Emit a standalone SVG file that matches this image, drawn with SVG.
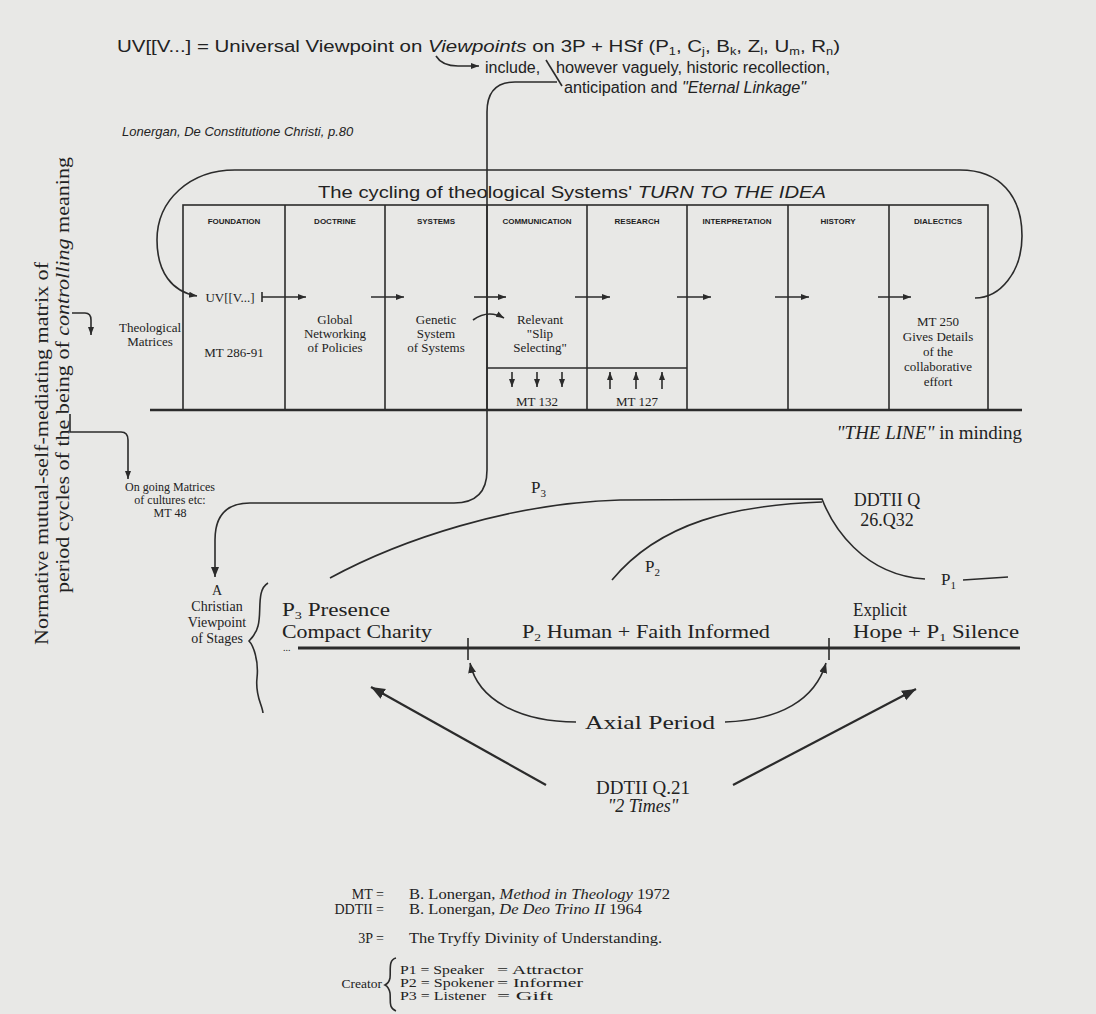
<svg xmlns="http://www.w3.org/2000/svg" width="1096" height="1014" viewBox="0 0 1096 1014">
<defs>
<style>
.bg{fill:#e8e8e6}
.ln{fill:none;stroke:#2b2b2b;stroke-width:1.6}
.thk{fill:none;stroke:#2b2b2b;stroke-width:2.6}
.sans{font-family:"Liberation Sans",Arial,sans-serif;fill:#222}
.serif{font-family:"Liberation Serif","Times New Roman",serif;fill:#222}
.hdr{font-family:"Liberation Sans",Arial,sans-serif;font-weight:bold;font-size:8px;fill:#1e1e1e;text-anchor:middle}
.cell{font-family:"Liberation Serif","Times New Roman",serif;font-size:13px;fill:#222;text-anchor:middle}
.it{font-style:italic}
</style>
<marker id="ah" markerUnits="userSpaceOnUse" markerWidth="12" markerHeight="10" refX="10" refY="5" orient="auto">
<path d="M0,1 L10,5 L0,9 Z" fill="#2b2b2b"/>
</marker>
<marker id="ahs" markerUnits="userSpaceOnUse" markerWidth="9" markerHeight="8" refX="8" refY="4" orient="auto">
<path d="M0,1 L8,4 L0,7 Z" fill="#2b2b2b"/>
</marker>
<marker id="ahb" markerUnits="userSpaceOnUse" markerWidth="16" markerHeight="14" refX="14" refY="7" orient="auto">
<path d="M0,1.5 L14,7 L0,12.5 Z" fill="#2b2b2b"/>
</marker>
</defs>
<rect class="bg" x="0" y="0" width="1096" height="1014"/>

<g id="uv-definition">
<text class="sans" x="117" y="52" font-size="16" textLength="723" lengthAdjust="spacingAndGlyphs">UV[[V...] = Universal Viewpoint on <tspan class="it">Viewpoints</tspan> on 3P + HSf (P<tspan font-size="10" dy="3">1</tspan><tspan dy="-3">, C</tspan><tspan font-size="10" dy="3">j</tspan><tspan dy="-3">, B</tspan><tspan font-size="10" dy="3">k</tspan><tspan dy="-3">, Z</tspan><tspan font-size="10" dy="3">l</tspan><tspan dy="-3">, U</tspan><tspan font-size="10" dy="3">m</tspan><tspan dy="-3">, R</tspan><tspan font-size="10" dy="3">n</tspan><tspan dy="-3">)</tspan></text>
<text class="sans" x="485" y="73" font-size="16">include,</text>
<text class="sans" x="556" y="73" font-size="16" textLength="274" lengthAdjust="spacingAndGlyphs">however vaguely, historic recollection,</text>
<text class="sans" x="564" y="93" font-size="16" textLength="242" lengthAdjust="spacingAndGlyphs">anticipation and <tspan class="it">"Eternal Linkage"</tspan></text>
</g>

<g id="lonergan-ref">
<text class="sans it" x="122" y="136" font-size="13">Lonergan, De Constitutione Christi, p.80</text>
</g>

<g id="cycle-title">
<text class="sans" x="318" y="198" font-size="17" textLength="508" lengthAdjust="spacingAndGlyphs">The cycling of theological Systems' <tspan class="it">TURN TO THE IDEA</tspan></text>
</g>

<g id="table">
<rect class="ln" x="183" y="205" width="805" height="205"/>
<line class="ln" x1="285" y1="205" x2="285" y2="410"/>
<line class="ln" x1="385" y1="205" x2="385" y2="410"/>
<line class="ln" x1="487" y1="205" x2="487" y2="410"/>
<line class="ln" x1="587" y1="205" x2="587" y2="410"/>
<line class="ln" x1="687" y1="205" x2="687" y2="410"/>
<line class="ln" x1="788" y1="205" x2="788" y2="410"/>
<line class="ln" x1="889" y1="205" x2="889" y2="410"/>
<line class="ln" x1="487" y1="368" x2="687" y2="368"/>
</g>

<g id="col-foundation">
<text class="hdr" x="234" y="224">FOUNDATION</text>
<text class="cell" x="230" y="302">UV[[V...]</text>
<text class="cell" x="234" y="357">MT 286-91</text>
</g>
<g id="col-doctrine">
<text class="hdr" x="335" y="224">DOCTRINE</text>
<text class="cell" x="335" y="324">Global</text>
<text class="cell" x="335" y="338">Networking</text>
<text class="cell" x="335" y="352">of Policies</text>
</g>
<g id="col-systems">
<text class="hdr" x="436" y="224">SYSTEMS</text>
<text class="cell" x="436" y="324">Genetic</text>
<text class="cell" x="436" y="338">System</text>
<text class="cell" x="436" y="352">of Systems</text>
</g>
<g id="col-communication">
<text class="hdr" x="537" y="224">COMMUNICATION</text>
<text class="cell" x="540" y="324">Relevant</text>
<text class="cell" x="540" y="338">"Slip</text>
<text class="cell" x="540" y="352">Selecting"</text>
<text class="cell" x="537" y="406">MT 132</text>
</g>
<g id="col-research">
<text class="hdr" x="637" y="224">RESEARCH</text>
<text class="cell" x="637" y="406">MT 127</text>
</g>
<g id="col-interpretation">
<text class="hdr" x="737" y="224">INTERPRETATION</text>
</g>
<g id="col-history">
<text class="hdr" x="838" y="224">HISTORY</text>
</g>
<g id="col-dialectics">
<text class="hdr" x="938" y="224">DIALECTICS</text>
<text class="cell" x="938" y="326">MT 250</text>
<text class="cell" x="938" y="341">Gives Details</text>
<text class="cell" x="938" y="356">of the</text>
<text class="cell" x="938" y="371">collaborative</text>
<text class="cell" x="938" y="386">effort</text>
</g>

<g id="the-line">
<line class="thk" x1="150" y1="410" x2="1022" y2="410"/>
<text class="serif" x="1022" y="439" font-size="19" text-anchor="end"><tspan class="it">"THE LINE"</tspan> in minding</text>
</g>

<g id="side-label">
<text class="serif" transform="translate(48,645) rotate(-90)" font-size="19" textLength="383" lengthAdjust="spacingAndGlyphs">Normative mutual-self-mediating matrix of</text>
<text class="serif" transform="translate(69,593) rotate(-90)" font-size="19" textLength="436" lengthAdjust="spacingAndGlyphs">period cycles of the being of <tspan class="it">controlling</tspan> meaning</text>
</g>

<g id="theological-matrices">
<text class="serif" x="150" y="332" font-size="13" text-anchor="middle">Theological</text>
<text class="serif" x="150" y="346" font-size="13" text-anchor="middle">Matrices</text>
</g>

<g id="ongoing-matrices">
<text class="serif" x="170" y="491" font-size="12" text-anchor="middle">On going Matrices</text>
<text class="serif" x="170" y="504" font-size="12" text-anchor="middle">of cultures etc:</text>
<text class="serif" x="170" y="517" font-size="12" text-anchor="middle">MT 48</text>
</g>

<g id="christian-viewpoint">
<text class="serif" x="217" y="595" font-size="14" text-anchor="middle">A</text>
<text class="serif" x="217" y="611" font-size="14" text-anchor="middle">Christian</text>
<text class="serif" x="217" y="627" font-size="14" text-anchor="middle">Viewpoint</text>
<text class="serif" x="217" y="643" font-size="14" text-anchor="middle">of Stages</text>
<path class="ln" d="M268,583 C256,590 262,612 258,626 C256,634 252,638 249,641 C253,645 259,660 257,678 C255,696 262,704 263,713"/>
</g>

<g id="stages">
<text class="serif" x="282" y="616" font-size="18" textLength="108" lengthAdjust="spacingAndGlyphs">P<tspan font-size="11" dy="3">3</tspan><tspan dy="-3"> Presence</tspan></text>
<text class="serif" x="282" y="638" font-size="18" textLength="150" lengthAdjust="spacingAndGlyphs">Compact Charity</text>
<text class="serif" x="522" y="638" font-size="18" textLength="248" lengthAdjust="spacingAndGlyphs">P<tspan font-size="11" dy="3">2</tspan><tspan dy="-3"> Human + Faith Informed</tspan></text>
<text class="serif" x="853" y="616" font-size="18" textLength="54" lengthAdjust="spacingAndGlyphs">Explicit</text>
<text class="serif" x="853" y="638" font-size="18" textLength="166" lengthAdjust="spacingAndGlyphs">Hope + P<tspan font-size="11" dy="3">1</tspan><tspan dy="-3"> Silence</tspan></text>
<text class="serif" x="283" y="651" font-size="10">...</text>
<line x1="298" y1="648" x2="1020" y2="648" stroke="#2b2b2b" stroke-width="3"/>
<line class="ln" x1="468" y1="638" x2="468" y2="660"/>
<line class="ln" x1="829" y1="638" x2="829" y2="660"/>
</g>

<g id="ddtii-q26">
<text class="serif" x="887" y="506" font-size="18" text-anchor="middle">DDTII Q</text>
<text class="serif" x="887" y="526" font-size="18" text-anchor="middle">26.Q32</text>
</g>

<g id="axial-period">
<text class="serif" x="650" y="729" font-size="19" text-anchor="middle" textLength="130" lengthAdjust="spacingAndGlyphs">Axial Period</text>
</g>

<g id="ddtii-q21">
<text class="serif" x="643" y="794" font-size="19" text-anchor="middle">DDTII Q.21</text>
<text class="serif it" x="643" y="812" font-size="18" text-anchor="middle">"2 Times"</text>
</g>

<g id="legend">
<text class="serif" x="384" y="899" font-size="14" text-anchor="end">MT =</text>
<text class="serif" x="409" y="899" font-size="14" textLength="261" lengthAdjust="spacingAndGlyphs">B. Lonergan, <tspan class="it">Method in Theology</tspan>  1972</text>
<text class="serif" x="384" y="914" font-size="14" text-anchor="end">DDTII =</text>
<text class="serif" x="409" y="914" font-size="14" textLength="233" lengthAdjust="spacingAndGlyphs">B. Lonergan, <tspan class="it">De Deo Trino II</tspan> 1964</text>
<text class="serif" x="384" y="943" font-size="14" text-anchor="end">3P =</text>
<text class="serif" x="409" y="943" font-size="14" textLength="253" lengthAdjust="spacingAndGlyphs">The Tryffy Divinity of Understanding.</text>
<text class="serif" x="382" y="988" font-size="13.5" text-anchor="end">Creator</text>
<path class="ln" d="M396,958 C388,960 391,970 390,978 C389,983 387,984 385,985 C387,986 389,988 390,993 C391,1000 388,1008 396,1011"/>
<text class="serif" x="400" y="974" font-size="13.5" textLength="84" lengthAdjust="spacingAndGlyphs">P1 = Speaker</text>
<text class="serif" x="497" y="974" font-size="13.5" textLength="86" lengthAdjust="spacingAndGlyphs">= Attractor</text>
<text class="serif" x="400" y="987" font-size="13.5" textLength="94" lengthAdjust="spacingAndGlyphs">P2 = Spokener</text>
<text class="serif" x="497" y="987" font-size="13.5" textLength="86" lengthAdjust="spacingAndGlyphs">= Informer</text>
<text class="serif" x="400" y="1000" font-size="13.5" textLength="86" lengthAdjust="spacingAndGlyphs">P3 = Listener</text>
<text class="serif" x="497" y="1000" font-size="13.5" textLength="56" lengthAdjust="spacingAndGlyphs">= Gift</text>
</g>

<g id="connectors">
<path class="ln" d="M436,56 Q442,66 458,66 L479,66" marker-end="url(#ahs)"/>
<line class="ln" x1="546" y1="60" x2="562" y2="86"/>
<path class="ln" d="M557,82 L515,82 Q487,82 487,112 L487,470 Q487,503 454,503 L250,503 Q215,503 215,540 L215,577" marker-end="url(#ah)"/>
<path class="ln" d="M975,298 C1000,298 1022,272 1022,236 C1022,196 1000,170 960,170 L235,170 C190,170 157,200 157,240 C157,272 172,292 197,296" marker-end="url(#ahs)"/>
<path class="ln" d="M262,292 L262,302 M262,297 L306,297" marker-end="url(#ahs)"/>
<line class="ln" x1="371" y1="297" x2="404" y2="297" marker-end="url(#ahs)"/>
<line class="ln" x1="474" y1="297" x2="506" y2="297" marker-end="url(#ahs)"/>
<line class="ln" x1="575" y1="297" x2="610" y2="297" marker-end="url(#ahs)"/>
<line class="ln" x1="677" y1="297" x2="711" y2="297" marker-end="url(#ahs)"/>
<line class="ln" x1="775" y1="297" x2="809" y2="297" marker-end="url(#ahs)"/>
<line class="ln" x1="878" y1="297" x2="911" y2="297" marker-end="url(#ahs)"/>
<path class="ln" d="M473,320 Q488,309 504,318" marker-end="url(#ahs)"/>
<line class="ln" x1="512" y1="372" x2="512" y2="387" marker-end="url(#ahs)"/>
<line class="ln" x1="537" y1="372" x2="537" y2="387" marker-end="url(#ahs)"/>
<line class="ln" x1="562" y1="372" x2="562" y2="387" marker-end="url(#ahs)"/>
<line class="ln" x1="610" y1="389" x2="610" y2="372" marker-end="url(#ahs)"/>
<line class="ln" x1="636" y1="389" x2="636" y2="372" marker-end="url(#ahs)"/>
<line class="ln" x1="662" y1="389" x2="662" y2="372" marker-end="url(#ahs)"/>
<path class="ln" d="M72,313 L85,313 Q91,313 91,320 L91,335" marker-end="url(#ahs)"/>
<path class="ln" d="M70,414 L70,432 L121,432 Q128,432 128,440 L128,479" marker-end="url(#ahs)"/>
<path class="ln" d="M330,578 C400,540 510,503 620,500 L822,499 C832,525 862,575 925,579"/>
<line class="ln" x1="963" y1="580" x2="1008" y2="577"/>
<path class="ln" d="M612,580 C660,522 735,505 822,502"/>
<text class="serif" x="531" y="493" font-size="17">P<tspan font-size="11" dy="4">3</tspan></text>
<text class="serif" x="645" y="572" font-size="17">P<tspan font-size="11" dy="4">2</tspan></text>
<text class="serif" x="941" y="585" font-size="17">P<tspan font-size="11" dy="4">1</tspan></text>
<path class="ln" d="M576,722 C520,722 478,700 470,663" marker-end="url(#ah)"/>
<path class="ln" d="M725,722 C780,720 815,700 826,663" marker-end="url(#ah)"/>
<line x1="546" y1="785" x2="371" y2="687" stroke="#2b2b2b" stroke-width="2.2" marker-end="url(#ahb)"/>
<line x1="733" y1="785" x2="916" y2="689" stroke="#2b2b2b" stroke-width="2.2" marker-end="url(#ahb)"/>
</g>
</svg>
